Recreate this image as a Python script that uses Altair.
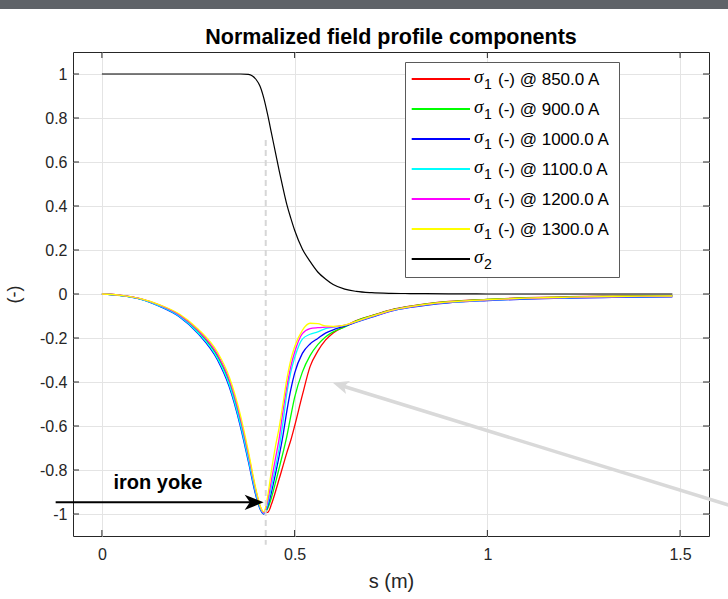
import altair as alt
import pandas as pd

# Longitudinal position along the magnet (m)
s_pos = [0, 0.05, 0.10, 0.15, 0.20, 0.25, 0.30, 0.33, 0.36, 0.38, 0.40, 0.41,
         0.42, 0.43, 0.44, 0.45, 0.46, 0.47, 0.48, 0.49, 0.50, 0.52, 0.54, 0.56,
         0.58, 0.60, 0.63, 0.66, 0.70, 0.75, 0.80, 0.90, 1.00, 1.10, 1.20, 1.30,
         1.40, 1.48]

# Normalised sigma_1 component for each excitation current
sigma1_850 = [0, -0.006, -0.022, -0.052, -0.095, -0.168, -0.28, -0.393, -0.578, -0.735, -0.90, -0.965,
              -0.993, -0.993, -0.955, -0.90, -0.84, -0.78, -0.72, -0.665, -0.60, -0.46, -0.33, -0.26,
              -0.21, -0.177, -0.147, -0.121, -0.098, -0.072, -0.055, -0.034, -0.024, -0.017, -0.013, -0.010,
              -0.008, -0.007]
sigma1_900 = [0, -0.007, -0.022, -0.053, -0.097, -0.172, -0.285, -0.40, -0.585, -0.742, -0.905, -0.968,
              -0.998, -0.975, -0.925, -0.86, -0.79, -0.72, -0.645, -0.555, -0.47, -0.355, -0.28, -0.23,
              -0.195, -0.172, -0.150, -0.122, -0.099, -0.073, -0.056, -0.035, -0.025, -0.018, -0.014, -0.011,
              -0.009, -0.008]
sigma1_1000 = [0, -0.007, -0.023, -0.056, -0.102, -0.181, -0.300, -0.42, -0.607, -0.762, -0.92, -0.976,
               -1.0, -0.965, -0.90, -0.82, -0.735, -0.64, -0.53, -0.435, -0.36, -0.27, -0.227, -0.202,
               -0.178, -0.163, -0.146, -0.128, -0.105, -0.078, -0.061, -0.040, -0.030, -0.023, -0.019, -0.016,
               -0.014, -0.013]
sigma1_1100 = [0, -0.007, -0.023, -0.055, -0.100, -0.177, -0.293, -0.41, -0.597, -0.752, -0.912, -0.972,
               -0.998, -0.955, -0.875, -0.79, -0.70, -0.58, -0.45, -0.355, -0.29, -0.205, -0.183, -0.172,
               -0.157, -0.151, -0.143, -0.126, -0.103, -0.076, -0.059, -0.038, -0.028, -0.021, -0.017, -0.014,
               -0.012, -0.011]
sigma1_1200 = [0, -0.006, -0.021, -0.051, -0.094, -0.166, -0.275, -0.388, -0.57, -0.728, -0.897, -0.963,
               -0.995, -0.94, -0.845, -0.75, -0.655, -0.53, -0.42, -0.33, -0.265, -0.18, -0.157, -0.153,
               -0.151, -0.149, -0.142, -0.125, -0.102, -0.075, -0.058, -0.037, -0.027, -0.020, -0.016, -0.013,
               -0.011, -0.010]
sigma1_1300 = [0, -0.006, -0.021, -0.049, -0.090, -0.160, -0.265, -0.375, -0.555, -0.715, -0.89, -0.96,
               -0.99, -0.92, -0.80, -0.695, -0.605, -0.495, -0.385, -0.30, -0.24, -0.165, -0.133, -0.135,
               -0.145, -0.147, -0.141, -0.124, -0.101, -0.074, -0.057, -0.036, -0.026, -0.019, -0.015, -0.012,
               -0.010, -0.009]
# Normalised sigma_2 component
sigma2 = [1, 1, 1, 1, 1, 1, 1, 1, 1, 0.998, 0.975, 0.945,
          0.89, 0.815, 0.73, 0.645, 0.56, 0.48, 0.405, 0.345, 0.29, 0.205, 0.148, 0.10,
          0.068, 0.043, 0.022, 0.012, 0.006, 0.003, 0.002, 0.001, 0, 0, 0, 0,
          0, 0]

currents = ["850.0", "900.0", "1000.0", "1100.0", "1200.0", "1300.0"]
sigma1_sets = [sigma1_850, sigma1_900, sigma1_1000, sigma1_1100, sigma1_1200, sigma1_1300]
line_colors = ["#ff0000", "#00ff00", "#0000ff", "#00ffff", "#ff00ff", "#ffff00"]

for arr in sigma1_sets + [sigma2]:
    assert len(arr) == len(s_pos)

x_ticks = [0, 0.5, 1, 1.5]
y_ticks = [-1, -0.8, -0.6, -0.4, -0.2, 0, 0.2, 0.4, 0.6, 0.8, 1]

# Annotation anchors (data units)
yoke_label = "iron yoke"
yoke_text_pos = (0.030, -0.885)
yoke_arrow = {"x0": -0.12, "x1": 0.384, "y": -0.947, "tip": 0.4196}
gray_arrow = {"x0": 1.655, "y0": -0.975, "x1": 0.6265, "y1": -0.4195, "tx": 0.599, "ty": -0.403}
boundary = {"s": 0.425, "top": 0.7, "bottom": -1.14}

W, H = 636, 484
FONT = "Liberation Sans"
AX = "#262626"

# field names without dots (Vega-Lite reads dots as nested access)
wide = pd.DataFrame({"s": s_pos, "sig2": sigma2})
series_fields = []
for i, vals in enumerate(sigma1_sets):
    name = f"sig1_{i}"
    wide[name] = vals
    series_fields.append(name)

xs = alt.Scale(domain=[-0.075, 1.575], nice=False, zero=False)
ys = alt.Scale(domain=[-1.1, 1.1], nice=False, zero=False)

x_axis = alt.Axis(values=x_ticks, grid=True, gridColor="#e4e4e4", gridWidth=1, ticks=False, domain=False,
                  labelExpr="'' + datum.value", labelFont=FONT, labelFontSize=16, labelColor=AX,
                  labelPadding=10, title="s (m)", titleFont=FONT, titleFontSize=20,
                  titleFontWeight="normal", titleColor=AX, titleBaseline="alphabetic", titleY=51)
y_axis = alt.Axis(values=y_ticks, grid=True, gridColor="#e4e4e4", gridWidth=1, ticks=False, domain=False,
                  labelExpr="'' + datum.value", labelFont=FONT, labelFontSize=16, labelColor=AX,
                  labelPadding=6, title="(-)", titleFont=FONT, titleFontSize=18,
                  titleFontWeight="normal", titleColor=AX, titleX=-59, titleY=H / 2,
                  titleAlign="center", titleBaseline="middle", titleAngle=270)


def xenc(field):
    return alt.X(f"{field}:Q", scale=xs, axis=x_axis)


def yenc(field):
    return alt.Y(f"{field}:Q", scale=ys, axis=y_axis)


one = pd.DataFrame({"k": [0]})
layers = []

# dark strip along the top edge
layers.append(alt.Chart(one).mark_rect(color="#5f6368").encode(
    x=alt.value(-73), x2=alt.value(W + 19), y=alt.value(-52), y2=alt.value(-43)))

# profile curves
for field, col in zip(series_fields, line_colors):
    layers.append(alt.Chart(wide).mark_line(color=col, strokeWidth=1.3, interpolate="monotone").encode(
        x=xenc("s"), y=yenc(field)))
layers.append(alt.Chart(wide).mark_line(color="#000000", strokeWidth=1.2, interpolate="monotone").encode(
    x=xenc("s"), y=yenc("sig2")))

# yoke boundary marker
bdf = pd.DataFrame({"s": [boundary["s"]], "a": [boundary["top"]], "b": [boundary["bottom"]]})
layers.append(alt.Chart(bdf).mark_rule(color="#d6d6d6", strokeWidth=2, strokeDash=[6, 4]).encode(
    x=xenc("s"), y=yenc("a"), y2="b:Q"))

# inward tick marks on all four sides
xt = pd.DataFrame({"t": x_ticks})
yt = pd.DataFrame({"t": y_ticks})
layers.append(alt.Chart(xt).mark_rule(color=AX, strokeWidth=1).encode(
    x=xenc("t"), y=alt.value(H), y2=alt.value(H - 6)))
layers.append(alt.Chart(xt).mark_rule(color=AX, strokeWidth=1).encode(
    x=xenc("t"), y=alt.value(0), y2=alt.value(6)))
layers.append(alt.Chart(yt).mark_rule(color=AX, strokeWidth=1).encode(
    y=yenc("t"), x=alt.value(0), x2=alt.value(6)))
layers.append(alt.Chart(yt).mark_rule(color=AX, strokeWidth=1).encode(
    y=yenc("t"), x=alt.value(W), x2=alt.value(W - 6)))

# "iron yoke" arrow
adf = pd.DataFrame({"x0": [yoke_arrow["x0"]], "x1": [yoke_arrow["x1"]], "y": [yoke_arrow["y"]],
                    "tip": [yoke_arrow["tip"]]})
layers.append(alt.Chart(adf).mark_rule(color="#000000", strokeWidth=2).encode(
    x=xenc("x0"), x2="x1:Q", y=yenc("y")))
head_path = "M0,0 L-2,-0.8 L-1.45,0 L-2,0.8 Z"
layers.append(alt.Chart(adf).mark_point(shape=head_path, filled=True, size=361, color="#000000",
                                         opacity=1, strokeWidth=0).encode(x=xenc("tip"), y=yenc("y")))
tdf = pd.DataFrame({"x": [yoke_text_pos[0]], "y": [yoke_text_pos[1]], "t": [yoke_label]})
layers.append(alt.Chart(tdf).mark_text(font=FONT, fontSize=20, fontWeight="bold", align="left",
                                        baseline="alphabetic", color="#000000").encode(
    x=xenc("x"), y=yenc("y"), text="t:N"))

# gray pointer arrow
gdf = pd.DataFrame({k: [v] for k, v in gray_arrow.items()})
layers.append(alt.Chart(gdf).mark_rule(color="#d9d9d9", strokeWidth=3.5).encode(
    x=xenc("x0"), y=yenc("y0"), x2="x1:Q", y2="y1:Q"))
layers.append(alt.Chart(gdf).mark_point(shape="M0,0 L-2,-0.85 L-1.5,0 L-2,0.85 Z", filled=True, size=256,
                                         color="#d9d9d9", opacity=1, strokeWidth=0, angle=197.2).encode(
    x=xenc("tx"), y=yenc("ty")))

# legend box
LX0, LX1, LY0, LY1 = 332.5, 546.5, 10.5, 225.5
layers.append(alt.Chart(one).mark_rect(fill="white", stroke="#5a5a5a", strokeWidth=1).encode(
    x=alt.value(LX0), x2=alt.value(LX1), y=alt.value(LY0), y2=alt.value(LY1)))
legend_entries = [(c, "1", f"(-) @ {cur} A") for c, cur in zip(line_colors, currents)] + [("#000000", "2", "")]
for i, (col, sub, lab) in enumerate(legend_entries):
    ry = 27 + 30 * i
    layers.append(alt.Chart(one).mark_rule(color=col, strokeWidth=2).encode(
        x=alt.value(338.7), x2=alt.value(397), y=alt.value(ry)))
    layers.append(alt.Chart(one).mark_text(text="σ", font="Liberation Serif", fontStyle="italic", fontSize=19,
                                            align="left", baseline="alphabetic", color="#000000").encode(
        x=alt.value(401), y=alt.value(ry + 4)))
    layers.append(alt.Chart(one).mark_text(text=sub, font=FONT, fontSize=14, align="left",
                                            baseline="alphabetic", color="#000000").encode(
        x=alt.value(411), y=alt.value(ry + 10)))
    if lab:
        layers.append(alt.Chart(one).mark_text(text=lab, font=FONT, fontSize=17, align="left",
                                                baseline="alphabetic", color="#000000").encode(
            x=alt.value(425), y=alt.value(ry + 5.5)))

# chart title
layers.append(alt.Chart(one).mark_text(text="Normalized field profile components", font=FONT, fontSize=21.5,
                                        fontWeight="bold", align="center", baseline="alphabetic",
                                        color="#000000").encode(x=alt.value(W / 2), y=alt.value(-8)))

chart = alt.layer(*layers).properties(
    width=W, height=H,
    padding={"left": 73, "top": 52, "right": 19, "bottom": 63},
    autosize=alt.AutoSizeParams(type="none"),
    background="white",
).configure_view(stroke=AX, strokeWidth=1)

chart.save("out.html", embed_options={"renderer": "svg", "actions": False})
